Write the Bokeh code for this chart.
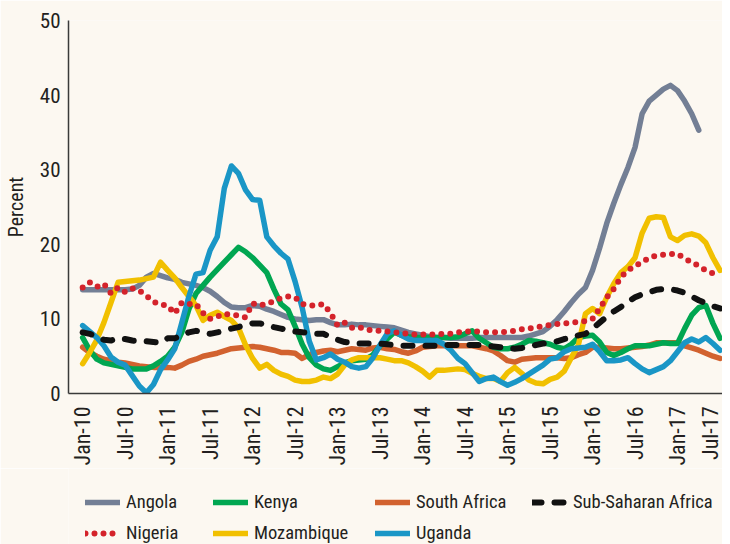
import math
from bokeh.plotting import figure
from bokeh.layouts import column
from bokeh.models import Legend, LegendItem, FixedTicker, Range1d
from bokeh.embed import file_html
from bokeh.resources import INLINE

# ---------------- data (monthly, Jan-10 .. Jul-17) ----------------
tick_labels = ["Jan-10", "Jul-10", "Jan-11", "Jul-11", "Jan-12", "Jul-12", "Jan-13", "Jul-13",
               "Jan-14", "Jul-14", "Jan-15", "Jul-15", "Jan-16", "Jul-16", "Jan-17", "Jul-17"]

angola = [13.9, 13.9, 13.9, 13.9, 13.9, 13.9, 13.9, 14.0, 14.5, 15.6,
          16.1, 15.8, 15.5, 15.3, 14.9, 14.7, 14.5, 14.2, 13.7, 13.0,
          12.2, 11.6, 11.5, 11.5, 11.8, 11.7, 11.3, 11.0, 10.6, 10.2,
          10.0, 9.9, 9.8, 9.9, 9.9, 9.5, 9.2, 9.2, 9.3, 9.2,
          9.2, 9.1, 9.0, 8.9, 8.8, 8.5, 8.2, 8.0, 7.8, 7.6,
          7.5, 7.5, 7.4, 7.4, 7.4, 7.4, 7.5, 7.5, 7.5, 7.5,
          7.5, 7.5, 7.5, 7.7, 8.0, 8.3, 9.0, 9.9, 11.0, 12.2,
          13.3, 14.2, 16.5, 19.5, 22.8, 25.5, 28.0, 30.3, 33.0, 37.5,
          39.2, 40.0, 40.8, 41.3, 40.6, 39.2, 37.5, 35.3]

nigeria = [14.2, 14.9, 14.3, 14.7, 13.4, 14.2, 13.6, 14.1, 13.8, 13.1,
           12.3, 11.9, 11.8, 10.7, 12.2, 12.0, 12.0, 10.8, 10.0, 10.3,
           10.7, 10.5, 10.5, 10.2, 12.1, 11.8, 12.0, 12.4, 12.8, 13.0,
           12.9, 12.0, 11.8, 11.8, 12.0, 10.8, 9.1, 9.5, 8.8, 8.9,
           8.6, 8.4, 8.4, 8.3, 8.2, 8.1, 8.0, 7.9, 7.9, 7.9,
           7.9, 8.0, 8.0, 8.2, 8.3, 8.3, 8.3, 8.2, 8.2, 8.2,
           8.3, 8.4, 8.6, 8.7, 8.9, 9.0, 9.2, 9.3, 9.4, 9.5,
           9.6, 9.7, 10.0, 11.4, 12.9, 14.0, 15.6, 16.5, 17.1, 17.6,
           18.2, 18.5, 18.6, 18.7, 18.7, 18.1, 17.6, 17.1, 16.5, 16.1,
           15.8]

kenya = [7.5, 5.8, 4.6, 4.1, 3.9, 3.7, 3.5, 3.3, 3.3, 3.3,
         3.7, 4.3, 5.0, 6.2, 8.2, 11.3, 13.4, 14.5, 15.6, 16.6,
         17.6, 18.6, 19.6, 19.0, 18.2, 17.2, 16.2, 14.0, 12.0, 11.2,
         9.0, 6.6, 4.8, 3.8, 3.3, 3.1, 3.6, 4.1, 4.4, 4.5,
         4.6, 5.2, 6.4, 7.3, 8.2, 7.8, 7.6, 7.5, 7.5, 7.5,
         7.5, 7.5, 7.5, 7.6, 8.0, 8.4, 7.4, 6.8, 6.2, 6.0,
         6.0, 6.2, 6.6, 7.1, 7.0, 6.8, 6.6, 6.2, 6.0, 6.6,
         7.5, 7.7, 7.8, 6.9, 5.5, 5.1, 5.5, 6.0, 6.4, 6.4,
         6.4, 6.6, 6.8, 6.7, 6.7, 8.7, 10.5, 11.5, 11.8, 9.4,
         7.4]

mozambique = [4.0, 5.5, 7.2, 9.5, 12.2, 14.9, 15.0, 15.1, 15.2, 15.4,
              15.6, 17.6, 16.5, 15.5, 14.2, 13.0, 11.8, 9.8, 10.5, 10.9,
              10.3, 9.8, 8.8, 6.5, 4.7, 3.4, 3.9, 3.1, 2.6, 2.3,
              1.8, 1.6, 1.6, 1.8, 2.2, 2.0, 2.6, 3.8, 4.5, 4.8,
              4.8, 4.8, 4.8, 4.6, 4.4, 4.4, 4.1, 3.6, 3.0, 2.2,
              3.1, 3.1, 3.2, 3.3, 3.2, 2.7, 2.3, 2.0, 2.0, 1.6,
              2.8, 3.5, 2.7, 1.8, 1.4, 1.3, 1.9, 2.2, 3.0, 4.8,
              6.5, 10.7, 11.4, 10.7, 12.9, 14.7, 16.2, 17.0, 18.2, 21.5,
              23.5, 23.7, 23.6, 21.0, 20.5, 21.2, 21.4, 21.1, 20.2, 18.2,
              16.5]

south_africa = [6.2, 5.5, 5.0, 4.6, 4.4, 4.2, 4.1, 3.9, 3.7, 3.6,
                3.5, 3.5, 3.5, 3.4, 3.8, 4.3, 4.6, 5.0, 5.2, 5.4,
                5.7, 6.0, 6.1, 6.2, 6.3, 6.2, 6.0, 5.8, 5.5, 5.5,
                5.4, 4.7, 5.2, 5.5, 5.7, 5.8, 5.6, 5.8, 6.0, 5.9,
                5.8, 6.1, 6.2, 6.0, 5.9, 5.6, 5.4, 5.7, 6.2, 6.3,
                6.4, 6.4, 6.4, 6.4, 6.4, 6.4, 6.2, 6.0, 5.7, 5.1,
                4.4, 4.2, 4.6, 4.7, 4.8, 4.8, 4.8, 4.8, 4.7, 4.8,
                5.2, 5.5, 6.2, 6.2, 6.1, 6.0, 6.0, 6.1, 6.2, 6.3,
                6.5, 6.8, 6.8, 6.8, 6.8, 6.4, 6.1, 5.8, 5.4, 5.0,
                4.7]

uganda = [9.1, 8.3, 7.5, 6.4, 4.9, 4.2, 3.8, 2.4, 1.0, 0.1,
          1.2, 3.2, 4.5, 6.0, 9.5, 13.0, 16.0, 16.2, 19.2, 21.0,
          27.5, 30.5, 29.5, 27.3, 26.0, 25.9, 21.0, 19.8, 18.8, 18.0,
          15.0, 11.5, 7.0, 4.5, 4.8, 5.3, 4.6, 4.2, 3.6, 3.4,
          3.6, 4.8, 6.5, 8.0, 8.4, 7.8, 7.3, 7.1, 7.1, 7.1,
          7.1, 6.6, 5.8, 4.7, 4.0, 2.8, 1.6, 2.0, 2.2, 1.6,
          1.1, 1.5, 2.0, 2.6, 3.2, 3.8, 4.6, 4.8, 5.6, 6.0,
          6.1, 6.2, 6.6, 5.6, 4.4, 4.4, 4.5, 4.8, 4.0, 3.3,
          2.8, 3.2, 3.6, 4.4, 5.6, 6.8, 7.3, 6.9, 7.5, 6.7,
          5.8]

ssa = [8.2, 8.0, 7.6, 7.2, 7.1, 7.4, 7.3, 7.1, 7.0, 7.0,
       6.9, 6.8, 7.4, 7.4, 7.8, 8.2, 8.4, 8.2, 8.0, 8.2,
       8.4, 8.7, 8.9, 9.2, 9.4, 9.4, 9.2, 8.9, 8.7, 8.5,
       8.3, 8.2, 8.1, 8.0, 8.0, 7.6, 7.2, 6.9, 6.8, 6.7,
       6.7, 6.7, 6.7, 6.6, 6.5, 6.4, 6.4, 6.4, 6.4, 6.4,
       6.4, 6.5, 6.5, 6.5, 6.5, 6.5, 6.5, 6.4, 6.3, 6.2,
       6.1, 6.0, 6.1, 6.3, 6.5, 6.7, 6.8, 7.0, 7.3, 7.5,
       7.8, 8.0, 8.7, 9.5, 10.3, 11.0, 11.6, 12.3, 12.9, 13.3,
       13.6, 13.9, 14.0, 14.0, 13.8, 13.5, 13.0, 12.5, 12.1, 11.7,
       11.4]

series_names = ["Angola", "Nigeria", "Kenya", "Mozambique", "South Africa", "Uganda", "Sub-Saharan Africa"]

# ---------------- styling ----------------
FONT = "'Roboto Condensed', 'DejaVu Sans Condensed', 'Liberation Sans Narrow', Lato"
BG = "#fcf8f1"
TXT = "#231f20"
LW = 5.5

styles = {
    "Angola": dict(line_color="#737f95", line_width=LW),
    "Nigeria": dict(line_color="#d4232b", line_width=6, line_dash="0 9"),
    "Kenya": dict(line_color="#00a651", line_width=LW),
    "Mozambique": dict(line_color="#f1c000", line_width=LW),
    "South Africa": dict(line_color="#d2622f", line_width=LW),
    "Uganda": dict(line_color="#1a96c6", line_width=LW),
    "Sub-Saharan Africa": dict(line_color="#111111", line_width=6, line_dash="9 13"),
}
values = {"Angola": angola, "Nigeria": nigeria, "Kenya": kenya, "Mozambique": mozambique,
          "South Africa": south_africa, "Uganda": uganda, "Sub-Saharan Africa": ssa}
draw_order = ["Angola", "South Africa", "Kenya", "Mozambique", "Uganda", "Nigeria", "Sub-Saharan Africa"]

# ---------------- main chart ----------------
p = figure(width=722, height=468, output_backend="svg", toolbar_location=None,
           x_range=Range1d(-2.0, 90.35), y_range=Range1d(0, 50),
           min_border_left=57, min_border_right=0, min_border_top=20, min_border_bottom=75,
           background_fill_color=BG, border_fill_color=BG, outline_line_color=None)
p.xgrid.visible = False
p.ygrid.visible = False

for name in draw_order:
    vals = values[name]
    p.line(list(range(len(vals))), vals, line_cap="round", line_join="round", **styles[name])

p.xaxis.ticker = FixedTicker(ticks=[i * 6 for i in range(len(tick_labels))])
p.xaxis.major_label_overrides = {i * 6: lab for i, lab in enumerate(tick_labels)}
p.xaxis.major_label_orientation = math.pi / 2
p.yaxis.ticker = FixedTicker(ticks=[0, 10, 20, 30, 40, 50])
p.yaxis.axis_label = "Percent"

for ax in (p.xaxis, p.yaxis):
    ax.axis_line_color = "#3a3a3a"
    ax.axis_line_width = 1.5
    ax.major_tick_line_color = None
    ax.minor_tick_line_color = None
    ax.major_tick_out = 0
    ax.major_tick_in = 0
    ax.major_label_text_font = FONT
    ax.major_label_text_color = TXT

p.xaxis.major_label_text_font_size = "22px"
p.xaxis.major_label_standoff = 13
p.yaxis.major_label_text_font_size = "21px"
p.yaxis.major_label_standoff = 8
p.yaxis.axis_label_text_font = FONT
p.yaxis.axis_label_text_font_size = "20px"
p.yaxis.axis_label_text_font_style = "normal"
p.yaxis.axis_label_text_color = TXT
p.yaxis.axis_label_standoff = 9

# ---------------- legend strip (no axes, frame aligned with the chart's) ----------------
lf = figure(width=722, height=76, output_backend="svg", toolbar_location=None,
            x_axis_location=None, y_axis_location=None,
            x_range=Range1d(0, 1), y_range=Range1d(0, 1),
            min_border_left=57, min_border_right=0, min_border_top=0, min_border_bottom=0,
            background_fill_color=BG, border_fill_color=BG, outline_line_color=None)
lf.grid.visible = False
nan = float("nan")
leg_r = {name: lf.line([0, 1], [nan, nan], line_cap="round", **styles[name]) for name in series_names}

legend_columns = [
    (["Angola", "Nigeria"], 17, 0),
    (["Kenya", "Mozambique"], 145, 0),
    (["South Africa", "Uganda"], 307, 0),
    (["Sub-Saharan Africa"], 464, 31),
]
for names, lx, ly in legend_columns:
    lg = Legend(items=[LegendItem(label=n, renderers=[leg_r[n]]) for n in names],
                location=(lx, ly), orientation="vertical",
                background_fill_alpha=0, border_line_color=None,
                label_text_font=FONT, label_text_font_size="18.5px", label_text_color=TXT,
                glyph_width=35, glyph_height=22, label_height=22, label_standoff=6,
                spacing=9, padding=0, margin=0)
    lf.add_layout(lg, "center")

layout = column(p, lf, spacing=0)
html = file_html(layout, INLINE)
html = html.replace("<body>", '<body style="background-color:%s;">' % BG, 1)
open("out.html", "w").write(html)
